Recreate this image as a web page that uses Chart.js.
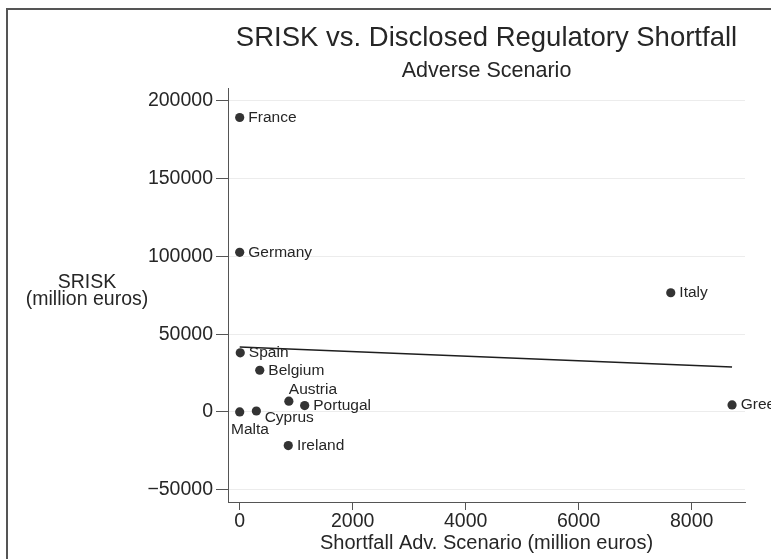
<!DOCTYPE html>
<html><head><meta charset="utf-8">
<script src="https://cdn.jsdelivr.net/npm/chart.js@4.4.0/dist/chart.umd.min.js"></script>
<style>html,body{margin:0;padding:0;background:#fff;} canvas{display:block;}</style>
</head><body>
<canvas id="c" width="771" height="559"></canvas>
<script>
// ---- data ----
const countries = ['France','Germany','Italy','Spain','Belgium','Austria','Portugal','Malta','Cyprus','Ireland','Greece'];
const shortfall = [0, 0, 7630, 10, 355, 870, 1150, 0, 295, 860, 8715];
const srisk = [189200, 102600, 76600, 38000, 26800, 6900, 4100, 0, 600, -21600, 4500];
const fitX = [0, 8715];
const fitY = [41800, 28950];
const xTicks = [0, 2000, 4000, 6000, 8000];
const yTicks = [-50000, 0, 50000, 100000, 150000, 200000];
const titleText = 'SRISK vs. Disclosed Regulatory Shortfall';
const subtitleText = 'Adverse Scenario';
const xTitle = 'Shortfall Adv. Scenario (million euros)';
const yTitle = ['SRISK', '(million euros)'];

// label placement (style, not data)
const labelPlacement = { Austria: {dx: 0, dy: -11}, Cyprus: {dx: 8.3, dy: 6.6}, Malta: {dx: -8.7, dy: 17.7} };
const defaultPlacement = {dx: 8.6, dy: 0};

const FONT = "'Liberation Sans', Arial, Helvetica, sans-serif";
const TXT = '#262626';
Chart.defaults.font.family = FONT;
Chart.defaults.color = TXT;

const points = countries.map((c, i) => ({x: shortfall[i], y: srisk[i]}));
const fit = fitX.map((x, i) => ({x: x, y: fitY[i]}));

const fmt = v => v < 0 ? '\u2212' + Math.abs(v) : String(v);

const framePlugin = {
  id: 'frame',
  beforeDraw(chart) {
    const ctx = chart.ctx;
    ctx.save();
    ctx.strokeStyle = '#555';
    ctx.lineWidth = 2;
    ctx.strokeRect(7, 9, 1000, 1000);
    ctx.restore();
  },
  afterDraw(chart) {
    const ctx = chart.ctx;
    ctx.save();
    ctx.fillStyle = TXT;
    ctx.font = '19.5px ' + FONT;
    ctx.textAlign = 'center';
    ctx.textBaseline = 'middle';
    ctx.fillText(yTitle[0], 87, 282.5);
    ctx.fillText(yTitle[1], 87, 299.5);
    ctx.restore();
  }
};

const labelPlugin = {
  id: 'pointLabels',
  afterDatasetsDraw(chart) {
    const ctx = chart.ctx;
    const meta = chart.getDatasetMeta(0);
    ctx.save();
    ctx.fillStyle = TXT;
    ctx.font = '15.5px ' + FONT;
    ctx.textAlign = 'left';
    ctx.textBaseline = 'middle';
    meta.data.forEach((el, i) => {
      const p = labelPlacement[countries[i]] || defaultPlacement;
      ctx.fillText(countries[i], el.x + p.dx, el.y + p.dy);
    });
    ctx.restore();
  }
};

new Chart(document.getElementById('c'), {
  type: 'scatter',
  data: {
    datasets: [
      {
        label: 'SRISK',
        data: points,
        pointRadius: 4.6,
        pointBackgroundColor: '#333',
        pointBorderWidth: 0,
        showLine: false
      },
      {
        label: 'Fitted values',
        type: 'line',
        data: fit,
        showLine: true,
        borderColor: '#1e1e1e',
        borderWidth: 1.5,
        pointRadius: 0,
        fill: false
      }
    ]
  },
  options: {
    responsive: false,
    animation: false,
    events: [],
    layout: { padding: {left: 0, right: 26, top: 0, bottom: 0} },
    plugins: {
      legend: { display: false },
      tooltip: { enabled: false },
      title: {
        display: true, text: titleText, color: TXT, fullSize: false,
        font: {size: 27.5, weight: 'normal', lineHeight: 1},
        padding: {top: 24.25, bottom: 0}
      },
      subtitle: {
        display: true, text: subtitleText, color: TXT, fullSize: false,
        font: {size: 21.5, weight: 'normal', lineHeight: 1},
        padding: {top: 8.5, bottom: 6.25}
      }
    },
    scales: {
      x: {
        type: 'linear',
        min: -207, max: 8944,
        afterBuildTicks: a => { a.ticks = xTicks.map(v => ({value: v})); },
        afterFit: s => { s.height = 57; },
        ticks: { callback: fmt, font: {size: 19.5, lineHeight: 1}, padding: 2, color: TXT, maxRotation: 0 },
        grid: { drawOnChartArea: false, drawTicks: true, tickLength: 8, tickColor: '#555', tickWidth: 1 },
        border: { display: true, color: '#555', width: 1 },
        title: { display: true, text: xTitle, color: TXT, font: {size: 20, lineHeight: 1}, padding: {top: 0, bottom: 5.5} }
      },
      y: {
        type: 'linear',
        min: -57880, max: 208170,
        afterBuildTicks: a => { a.ticks = yTicks.map(v => ({value: v})); },
        afterFit: s => { s.width = 228; },
        ticks: { callback: fmt, font: {size: 19.5, lineHeight: 1}, padding: 3, color: TXT },
        grid: { drawOnChartArea: true, color: '#ececec', lineWidth: 1, drawTicks: true, tickLength: 12, tickColor: '#555', tickWidth: 1 },
        border: { display: true, color: '#555', width: 1 }
      }
    }
  },
  plugins: [framePlugin, labelPlugin]
});
</script>
</body></html>
